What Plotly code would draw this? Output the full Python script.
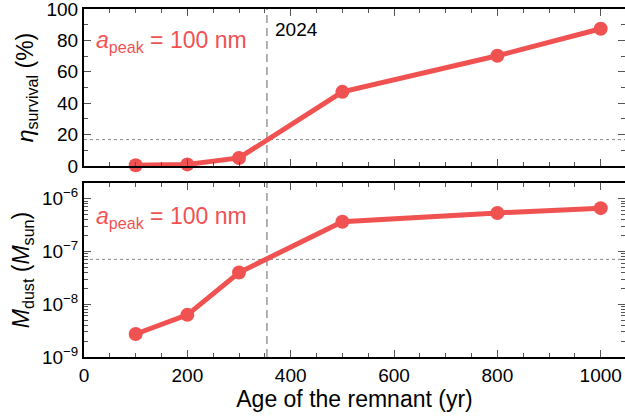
import plotly.graph_objects as go
from plotly.subplots import make_subplots

age = [100, 200, 300, 500, 800, 1000]
survival = [0.4, 1.0, 5.1, 47.2, 70.2, 87.4]
mdust = [2.73e-9, 6.3e-9, 4.0e-8, 3.68e-7, 5.4e-7, 6.65e-7]
age_2024 = 354
surv_obs = 16.8
mdust_obs = 7.1e-8
log_ticks = [1e-9, 1e-8, 1e-7, 1e-6]
log_ticktext = ["10<sup>−9</sup>", "10<sup>−8</sup>", "10<sup>−7</sup>", "10<sup>−6</sup>"]
minor_log = [m * 10.0 ** e for e in range(-9, -5) for m in range(2, 10)]

RED = "#f05252"
FONT = "Liberation Sans, Arial, sans-serif"

fig = make_subplots(rows=2, cols=1, shared_xaxes=False, vertical_spacing=0.05)
fig.add_trace(go.Scatter(x=age, y=survival, mode="lines+markers",
                         line=dict(color=RED, width=5), marker=dict(color=RED, size=14),
                         showlegend=False, cliponaxis=False), row=1, col=1)
fig.add_trace(go.Scatter(x=age, y=mdust, mode="lines+markers",
                         line=dict(color=RED, width=5), marker=dict(color=RED, size=14),
                         showlegend=False, cliponaxis=False), row=2, col=1)

axis_common = dict(showline=True, linecolor="black", linewidth=2, mirror="ticks",
                   ticks="inside", ticklen=7, tickwidth=1, tickcolor="#555",
                   showgrid=False, zeroline=False, automargin=False,
                   ticklabeloverflow="allow",
                   tickfont=dict(family=FONT, size=19, color="black"))

xr = [0, 1047]
TITLE_FONT = dict(family=FONT, size=23, color="black")
fig.update_xaxes(range=xr, dtick=200, showticklabels=False,
                 minor=dict(ticks="inside", dtick=50, ticklen=4, tickcolor="#555"),
                 **axis_common, row=1, col=1)
fig.update_xaxes(range=xr, dtick=200,
                 minor=dict(ticks="inside", dtick=50, ticklen=4, tickcolor="#555"),
                 title=dict(text="Age of the remnant (yr)", font=TITLE_FONT, standoff=6),
                 **axis_common, row=2, col=1)
fig.update_yaxes(range=[0, 100], dtick=20,
                 minor=dict(ticks="inside", dtick=10, ticklen=4, tickcolor="#555"),
                 title=dict(text="<i>η</i><sub>survival</sub> (%)", font=TITLE_FONT, standoff=6),
                 **axis_common, row=1, col=1)
fig.update_yaxes(type="log", range=[-9, -5.70], tickvals=log_ticks, ticktext=log_ticktext,
                 minor=dict(ticks="inside", tickvals=minor_log, ticklen=4, tickcolor="#555"),
                 title=dict(text="<i>M</i><sub>dust</sub> (<i>M</i><sub>sun</sub>)", font=TITLE_FONT, standoff=6),
                 **axis_common, row=2, col=1)

fig.update_layout(
    width=625, height=420,
    margin=dict(l=84, r=0, t=9, b=63, autoexpand=False),
    plot_bgcolor="white", paper_bgcolor="white",
    xaxis=dict(domain=[0, 1]), xaxis2=dict(domain=[0, 1]),
    yaxis=dict(domain=[0.549, 1.0]), yaxis2=dict(domain=[0, 0.5]),
    font=dict(family=FONT),
)

# reference lines
fig.add_shape(type="line", xref="x", yref="y domain", x0=age_2024, x1=age_2024, y0=0, y1=1,
              line=dict(color="#999", width=1.5, dash="8px,5px"), layer="below")
fig.add_shape(type="line", xref="x2", yref="y2 domain", x0=age_2024, x1=age_2024, y0=0, y1=1,
              line=dict(color="#999", width=1.5, dash="8px,5px"), layer="below")
fig.add_shape(type="line", xref="x domain", yref="y", x0=0, x1=1, y0=surv_obs, y1=surv_obs,
              line=dict(color="#888", width=1, dash="3px,3px"), layer="below")
fig.add_shape(type="line", xref="x2 domain", yref="y2", x0=0, x1=1, y0=mdust_obs, y1=mdust_obs,
              line=dict(color="#888", width=1, dash="3px,3px"), layer="below")

fig.add_annotation(x=age_2024, y=1, xref="x", yref="y domain", text="2024", showarrow=False,
                   xanchor="left", yanchor="top", xshift=6, yshift=-8,
                   font=dict(family=FONT, size=19, color="black"))
for yr in ["y domain", "y2 domain"]:
    xr_ref = "x domain" if yr == "y domain" else "x2 domain"
    fig.add_annotation(x=0.018, y=0.79 if yr == "y domain" else 0.80, xref=xr_ref, yref=yr,
                       text="<i>a</i><sub>peak</sub> = 100 nm", showarrow=False,
                       xanchor="left", yanchor="middle",
                       font=dict(family=FONT, size=23, color=RED))

fig.write_html("out.html", config={"displayModeBar": False},
               post_script="document.body.style.margin='0';document.body.style.overflow='hidden';")
